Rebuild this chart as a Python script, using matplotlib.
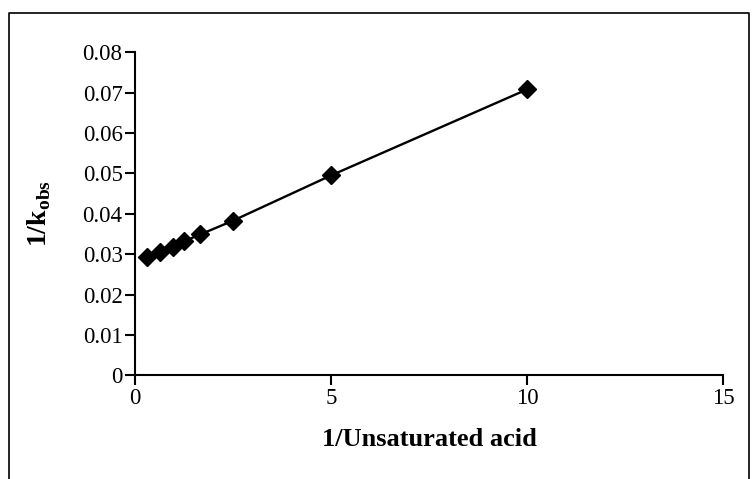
import matplotlib.pyplot as plt
from matplotlib.lines import Line2D

# === Данные ===
inv_acid = [0.3, 0.65, 0.96, 1.25, 1.67, 2.5, 5.0, 10.0]
inv_kobs = [0.0293, 0.0306, 0.0318, 0.0332, 0.0349, 0.0383, 0.0495, 0.0708]
x_ticks = [0, 5, 10, 15]
y_ticks = [0, 0.01, 0.02, 0.03, 0.04, 0.05, 0.06, 0.07, 0.08]
y_tick_labels = ["0", "0.01", "0.02", "0.03", "0.04", "0.05", "0.06", "0.07", "0.08"]

plt.rcParams['font.family'] = ['Liberation Serif', 'DejaVu Serif']
plt.rcParams['mathtext.fontset'] = 'custom'
plt.rcParams['mathtext.rm'] = 'Liberation Serif'
plt.rcParams['mathtext.bf'] = 'Liberation Serif:bold'

fig = plt.figure(figsize=(7.56, 4.79), dpi=100)
ax = fig.add_axes([135 / 756, 1 - 375.3 / 479, 588 / 756, 323 / 479])

ax.plot(inv_acid, inv_kobs, color='black', lw=1.7, marker='D', ms=9,
        mfc='black', mec='black', zorder=3, clip_on=False)

ax.set_xlim(0, 15)
ax.set_ylim(0, 0.08)
ax.set_xticks(x_ticks)
ax.set_yticks(y_ticks)
ax.set_yticklabels(y_tick_labels)
ax.tick_params(direction='out', length=7, width=1.5, labelsize=16.5, colors='black', pad=2)

for s in ['top', 'right']:
    ax.spines[s].set_visible(False)
for s in ['left', 'bottom']:
    ax.spines[s].set_linewidth(1.5)

ax.set_xlabel("1/Unsaturated acid", fontsize=19, fontweight='bold', labelpad=14)
ax.set_ylabel(r"$\mathbf{1/k}_{\mathbf{obs}}$", fontsize=20, labelpad=21)

# рамка вокруг диаграммы (низ обрезан)
W, H = 756, 479
frame_x = [8.5 / W, 8.5 / W, 748.5 / W, 748.5 / W]
frame_y = [0, 1 - 12.5 / H, 1 - 12.5 / H, 0]
fig.add_artist(Line2D(frame_x, frame_y, transform=fig.transFigure, color='black', lw=1.2))

fig.savefig("out.png", dpi=100)
